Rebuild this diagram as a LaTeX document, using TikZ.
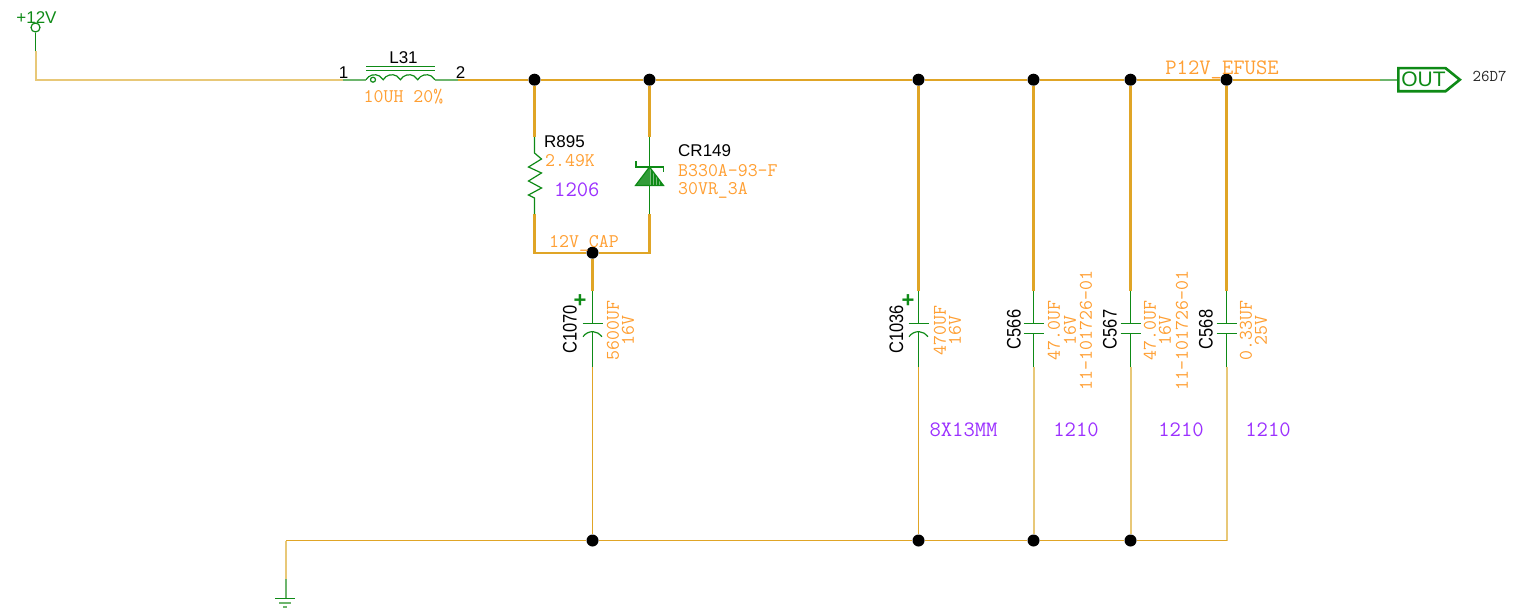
\documentclass[tikz,border=0pt]{standalone}
\usepackage{fontspec}
\setsansfont{Liberation Sans}
\usetikzlibrary{shapes}
\definecolor{wirecol}{HTML}{E0A526}
\definecolor{palecol}{HTML}{E8C878}
\definecolor{symcol}{HTML}{0E8A16}
\definecolor{stubcol}{HTML}{6DB56D}
\definecolor{valcol}{HTML}{FF9F33}
\definecolor{sizecol}{HTML}{9B30FF}
\begin{document}
\begin{tikzpicture}[x=1pt,y=-1pt,
            wire/.style = {draw=wirecol,line width=2.1pt},
            thinwire/.style = {draw=wirecol,line width=1.8pt},
            palewire/.style = {draw=palecol,line width=2pt},
            stub/.style = {draw=stubcol,line width=2pt},
            sym/.style = {draw=symcol,line width=1.2pt},
            dot/.style = {circle,fill=black,inner sep=0,minimum size=12pt},
            ref/.style = {inner sep=0,black,font=\sffamily\fontsize{17}{17}\selectfont},
            val/.style = {inner sep=0,valcol,font=\ttfamily\fontsize{19.3}{19}\selectfont},
            size/.style = {inner sep=0,sizecol,font=\ttfamily\fontsize{22}{22}\selectfont}]
            \useasboundingbox (0,0) rectangle (1513,610);
            \node[dot] (j1) at (534.5,79.7) {};
            \node[dot] (j2) at (649.5,79.7) {};
            \node[dot] (j3) at (918.5,79.7) {};
            \node[dot] (j4) at (1033.5,79.7) {};
            \node[dot] (j5) at (1130.5,79.7) {};
            \node[dot] (j6) at (1226.5,79.7) {};
            \node[dot] (capdot) at (592.5,252.7) {};
            \node[dot] (g1) at (592.5,540.5) {};
            \node[dot] (g2) at (918.5,540.5) {};
            \node[dot] (g3) at (1033.5,540.5) {};
            \node[dot] (g4) at (1130.5,540.5) {};
            \coordinate (gtop) at (285.5,540.5);
            \coordinate (gend) at (285.5,579);
            \coordinate (gbar) at (285.5,598);
            \coordinate (gright) at (1226.5,540.5);
            \node[circle,sym,inner sep=0,minimum size=9pt] (pwr) at (35.5,27.5) {};
            \coordinate (pwrend) at (35.5,51);
            \coordinate (l31a) at (343,79.7);
            \coordinate (l31in) at (366,79.7);
            \coordinate (l31out) at (435,79.7);
            \coordinate (l31b) at (458,79.7);
            \coordinate (outend) at (1380,79.7);
            \node[signal,signal to=east,signal pointer angle=78,draw=symcol,line width=2.6pt,
                minimum width=61pt,minimum height=23pt,inner sep=0,anchor=west,
                symcol,font=\sffamily\fontsize{21}{21}\selectfont] (outflag) at (1397,79.7) {\kern3pt OUT};
            \draw[sym] (pwr) -- (pwrend);
            \draw[palewire] (pwrend) |- (l31a);
            \draw[stub] (l31a) -- (l31in);
            \draw[stub] (l31out) -- (l31b);
            \draw[wire] (l31b) -- (j1) -- (j2) -- (j3) -- (j4) -- (j5) -- (j6) -- (outend);
            \draw[stub] (outend) -- (outflag.west);
            \draw[sym] (l31in) arc[start angle=150,end angle=30,radius=9.96pt]
                arc[start angle=150,end angle=30,radius=9.96pt]
                arc[start angle=150,end angle=30,radius=9.96pt]
                arc[start angle=150,end angle=30,radius=9.96pt];
            \draw[sym] (366,66.5) -- (435,66.5) (366,70.5) -- (435,70.5);
            \draw[sym] (373,79.7) circle[radius=2.5pt];
            \coordinate (r895a) at (534.5,137);
            \coordinate (r895b) at (534.5,214);
            \coordinate (cr149a) at (649.5,137);
            \coordinate (cr149b) at (649.5,214);
            \coordinate (capleft) at (534.5,252.7);
            \coordinate (capright) at (649.5,252.7);
            \draw[wire] (j1) -- (r895a);
            \draw[wire] (r895b) -- (capleft) -- (capdot) -- (capright) -- (cr149b);
            \draw[wire] (j2) -- (cr149a);
            \draw[sym] (r895a) -- (534.5,153) -- (541.5,159) -- (528.5,167) -- (541.5,173) -- (528.5,181)
                -- (541.5,188) -- (528.5,195) -- (534.5,198) -- (r895b);
            \draw[sym] (cr149a) -- (cr149b);
            \fill[symcol!55] (649.5,167) -- (663.5,185.5) -- (649.5,185.5) -- cycle;
            \fill[symcol!85] (649.5,167) -- (635.5,185.5) -- (649.5,185.5) -- cycle;
            \foreach \xp in {651,652.5,...,662.5}
                \draw[symcol,line width=0.6pt] (\xp,{167+(\xp-649.5)*1.32}) -- (\xp,185.5);
            \draw[sym] (649.5,167) -- (635.5,185.5) -- (663.5,185.5) -- cycle;
            \draw[sym] (636,161) -- (636,167) -- (663.5,167) -- (663.5,172);
            \foreach \cname/\cx/\jtop in {c1070/592.5/capdot,c1036/918.5/j3,c566/1033.5/j4,c567/1130.5/j5,c568/1226.5/j6} {
                \coordinate (\cname a) at (\cx,291);
                \coordinate (\cname b) at (\cx,367);
                \draw[wire] (\jtop) -- (\cname a);
                \draw[sym] (\cname a) -- (\cx,323.5) (\cx-10,323.5) -- (\cx+10,323.5);
            }
            \foreach \cname/\cx/\jbot in {c1070/592.5/g1,c1036/918.5/g2} {
                \draw[sym] (\cx-9.5,336.7) arc[start angle=145.7,end angle=34.3,radius=11.5pt];
                \draw[sym] (\cx,332) -- (\cname b);
                \draw[thinwire] (\cname b) -- (\jbot);
            }
            \foreach \cname/\cx/\jbot in {c566/1033.5/g3,c567/1130.5/g4,c568/1226.5/gright} {
                \draw[sym] (\cx-10,333.5) -- (\cx+10,333.5) (\cx,333.5) -- (\cname b);
                \draw[palewire] (\cname b) -- (\jbot);
            }
            \draw[thinwire] (gright) -- (g4) -- (g3) -- (g2) -- (g1) -- (gtop);
            \draw[palewire] (gtop) -- (gend);
            \draw[stub] (gend) -- (gbar);
            \draw[sym] (275,598.5) -- (295,598.5);
            \draw[stub] (279,602.5) -- (291,602.5);
            \draw[stub] (283,606.5) -- (287,606.5);
            \node[ref,symcol] (pwrlabel) at (36.5,17.5) {+12V};
            \node[ref] (pin1) at (343.5,72.5) {1};
            \node[ref] (pin2) at (460.5,72.5) {2};
            \node[ref] (l31ref) at (403.5,57.5) {L31};
            \node[val] (l31val) at (403.5,96.5) {10UH 20\%};
            \node[ref,anchor=west] (r895ref) at (544,141.5) {R895};
            \node[val,anchor=west] (r895val) at (545,160.5) {2.49K};
            \node[size,anchor=west] (r895size) at (554,189.5) {1206};
            \node[ref,anchor=west] (cr149ref) at (678,150.5) {CR149};
            \node[val,anchor=west] (cr149val) at (678,170.5) {B330A-93-F};
            \node[val,anchor=west] (cr149volt) at (678,190.5) {30VR\_3A};
            \node[val] (capnet) at (584,243.5) {12V\_CAP};
            \node[size,valcol] (fusenet) at (1222,69.5) {P12V\_EFUSE};
            \node[inner sep=0,black!85,font=\ttfamily\fontsize{16.5}{17}\selectfont] (outref) at (1489.5,76.5) {26D7};
            \node[inner sep=0,symcol,font=\sffamily\bfseries\fontsize{22}{22}\selectfont] (c1070plus) at (580,301.5) {+};
            \node[inner sep=0,symcol,font=\sffamily\bfseries\fontsize{22}{22}\selectfont] (c1036plus) at (908,301.5) {+};
            \foreach \tname/\tx/\ttext in {c1070ref/570/C1070,c1036ref/896.5/C1036,c566ref/1014/C566,c567ref/1110/C567,c568ref/1206/C568}
                \node[ref,rotate=90] (\tname) at (\tx,329.5) {\scalebox{0.97}[1.15]{\ttext}};
            \foreach \tname/\tx/\ttext in {c1070val/613/5600UF,c1070volt/628/16V,c1036val/940/470UF,c1036volt/955/16V,
                c566val/1054/47.0UF,c566volt/1070/16V,c566part/1086/11-101726-01,
                c567val/1150/47.0UF,c567volt/1165/16V,c567part/1182/11-101726-01,
                c568val/1246/0.33UF,c568volt/1261/25V}
                \node[val,rotate=90] (\tname) at (\tx,330.5) {\ttext};
            \foreach \tname/\tx/\ttext in {c1036size/963.5/8X13MM,c566size/1076/1210,c567size/1181/1210,c568size/1268/1210}
                \node[size] (\tname) at (\tx,429.5) {\ttext};
        \end{tikzpicture}
\end{document}
